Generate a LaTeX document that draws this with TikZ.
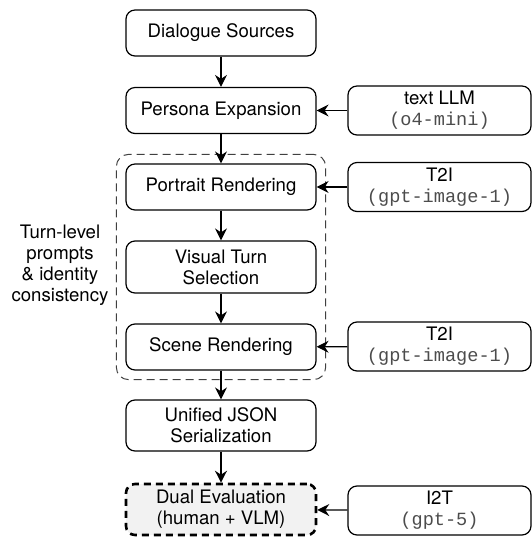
\documentclass[tikz,border=0pt]{standalone}
\usepackage{fontspec}
\setmainfont{TeX Gyre Heros}
\setmonofont{Liberation Mono}
\usetikzlibrary{arrows.meta,fit}
\definecolor{evalgray}{HTML}{F2F2F2}
\newcommand{\modelname}[1]{{\color{black!70}\texttt{#1}}}
\tikzset{
  stepbox/.style={draw,rounded corners=4.5pt,line width=0.6pt,align=center,
    minimum width=95pt,minimum height=23pt,inner sep=1pt},
  toolbox/.style={stepbox,minimum width=91.5pt,minimum height=24.5pt},
  flow/.style={-{Stealth[length=6pt,width=6pt,inset=2pt]},line width=0.6pt},
}
\begin{document}
\begin{tikzpicture}[x=0.5pt,y=-0.5pt,
  every node/.style={font=\fontsize{9.3}{10.5}\selectfont}]
  \useasboundingbox (0,0) rectangle (532,538);
  % main pipeline
  \node[stepbox] (sources) at (221,33) {Dialogue Sources};
  \node[stepbox] (persona) at (221,110.5) {Persona Expansion};
  \node[stepbox] (portrait) at (221,187) {Portrait Rendering};
  \node[stepbox,minimum height=26pt] (select) at (221,267) {Visual Turn\\Selection};
  \node[stepbox] (scene) at (221,347) {Scene Rendering};
  \node[stepbox,minimum height=25.5pt] (json) at (221,425.5) {Unified JSON\\Serialization};
  \node[stepbox,minimum height=25.5pt,fill=evalgray,line width=1.3pt,
    dash pattern=on 3.5pt off 2.5pt] (eval) at (221,509.5) {Dual Evaluation\\(human + VLM)};
  % models
  \node[toolbox] (llm) at (439.5,110.5) {text LLM\\\modelname{(o4-mini)}};
  \node[toolbox] (tti1) at (439.5,187) {T2I\\\modelname{(gpt-image-1)}};
  \node[toolbox] (tti2) at (439.5,346.5) {T2I\\\modelname{(gpt-image-1)}};
  \node[toolbox] (itt) at (439.5,510.5) {I2T\\\modelname{(gpt-5)}};
  % turn-level group
  \node[draw=black!75,dash pattern=on 4pt off 2.5pt,line width=0.5pt,
    rounded corners=6pt,inner sep=4.5pt,fit=(portrait)(scene)] (group) {};
  \node[align=center] (grouplabel) at (60,265) {Turn-level\\prompts\\\& identity\\consistency};
  % connectors
  \draw[flow] (sources) -- (persona);
  \draw[flow] (persona) -- (portrait);
  \draw[flow] (portrait) -- (select);
  \draw[flow] (select) -- (scene);
  \draw[flow] (scene) -- (json);
  \draw[flow] (json) -- (eval);
  \draw[flow] (llm) -- (persona);
  \draw[flow] (tti1) -- (portrait);
  \draw[flow] (tti2) -- (scene);
  \draw[flow] (itt) -- (eval);
\end{tikzpicture}
\end{document}
